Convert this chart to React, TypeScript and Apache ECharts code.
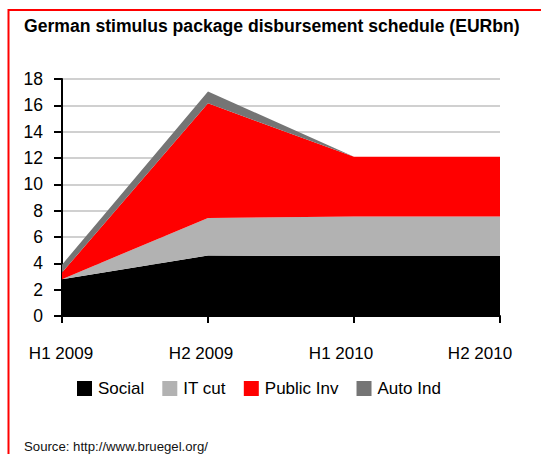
import React, { useEffect, useRef } from "react";
import * as echarts from "echarts";

const categories = ["H1 2009", "H2 2009", "H1 2010", "H2 2010"];
const social = [2.8, 4.6, 4.55, 4.55];
const itCut = [0, 2.85, 3.0, 3.0];
const publicInv = [0.5, 8.7, 4.55, 4.55];
const autoInd = [0.6, 0.9, 0, 0];
const yTicks = { min: 0, max: 18, interval: 2 };
const legendNames = ["Social", "IT cut", "Public Inv", "Auto Ind"];
const labelShift = [2, 14, 26, 40];

const FONT = "'Liberation Sans', Arial, sans-serif";

export default function App() {
  const ref = useRef<HTMLDivElement>(null);
  useEffect(() => {
    if (!ref.current) return;
    const chart = echarts.init(ref.current, null, { renderer: "svg" });
    const rich: any = {};
    labelShift.forEach((p, i) => {
      rich["p" + i] = { fontFamily: FONT, fontSize: 17, color: "#000", padding: [0, p, 0, 0] };
    });
    const mk = (name: string, data: number[], color: string) => ({
      name,
      type: "line",
      stack: "total",
      data,
      symbol: "none",
      lineStyle: { width: 0 },
      areaStyle: { color, opacity: 1 },
      itemStyle: { color },
      emphasis: { disabled: true },
    });
    chart.setOption({
      animation: false,
      textStyle: { fontFamily: FONT },
      title: [
        {
          text: "German stimulus package disbursement schedule (EURbn)",
          left: 24,
          top: 15,
          padding: 0,
          textStyle: { fontFamily: FONT, fontSize: 17.6, fontWeight: "bold", color: "#000", lineHeight: 22 },
        },
        {
          text: "Source: http://www.bruegel.org/",
          left: 24,
          top: 439,
          padding: 0,
          textStyle: { fontFamily: FONT, fontSize: 13.2, fontWeight: "normal", color: "#111", lineHeight: 15 },
        },
      ],
      legend: {
        data: legendNames,
        left: 77,
        top: 380,
        padding: 0,
        icon: "rect",
        itemWidth: 15,
        itemHeight: 15,
        itemGap: 18,
        textStyle: { fontFamily: FONT, fontSize: 17, color: "#000", padding: [0, 0, 0, 1] },
      },
      grid: { left: 62, right: 41, top: 79, bottom: 138, containLabel: false },
      xAxis: {
        type: "category",
        data: categories,
        boundaryGap: false,
        axisLine: { lineStyle: { color: "#000", width: 2 } },
        axisTick: { show: true, length: 7, lineStyle: { color: "#000", width: 2 }, interval: 0 },
        axisLabel: {
          interval: 0,
          margin: 29,
          color: "#000",
          fontFamily: FONT,
          fontSize: 17,
          formatter: (v: string, i: number) => `{p${i}|${v}}`,
          rich,
        },
        splitLine: { show: false },
      },
      yAxis: {
        type: "value",
        min: yTicks.min,
        max: yTicks.max,
        interval: yTicks.interval,
        axisLine: { show: true, lineStyle: { color: "#000", width: 2 } },
        axisTick: { show: true, length: 8, lineStyle: { color: "#000", width: 2 } },
        axisLabel: { margin: 19, color: "#000", fontFamily: FONT, fontSize: 17.5 },
        splitLine: { show: true, lineStyle: { color: "#d0d0d0", width: 2 } },
      },
      series: [
        mk("Social", social, "#000000"),
        mk("IT cut", itCut, "#b2b2b2"),
        mk("Public Inv", publicInv, "#ff0000"),
        mk("Auto Ind", autoInd, "#757575"),
      ],
      graphic: [
        {
          type: "polyline",
          silent: true,
          shape: { points: [[8.5, 460], [8.5, 10], [545, 10]] },
          style: { stroke: "#ff0000", lineWidth: 2, fill: null },
        },
      ],
    });
    return () => chart.dispose();
  }, []);
  return (
    <div
      ref={ref}
      style={{ position: "fixed", left: 0, top: 0, width: 541, height: 454, background: "#fff" }}
    />
  );
}
